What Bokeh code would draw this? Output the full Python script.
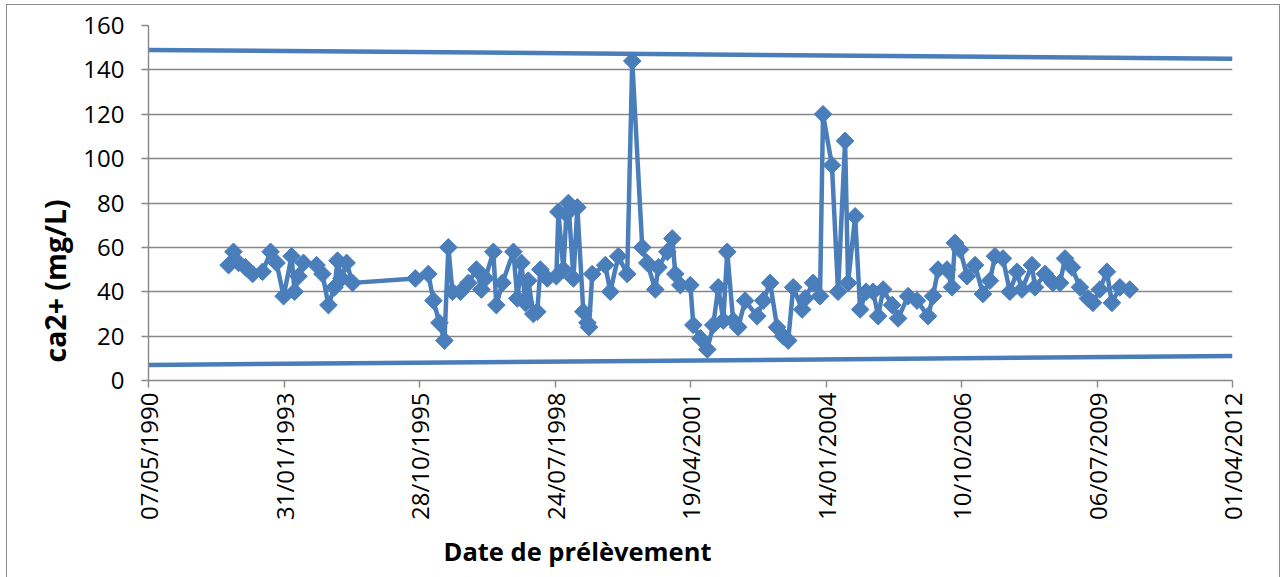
import numpy as np
import pandas as pd
from bokeh.plotting import figure
from bokeh.models import ColumnDataSource, Range1d, FixedTicker, DatetimeTickFormatter, Title
from bokeh.embed import file_html
from bokeh.resources import INLINE

# ---------------- data ----------------
tick_dates = ["1990-05-07", "1993-01-31", "1995-10-28", "1998-07-24", "2001-04-19",
              "2004-01-14", "2006-10-10", "2009-07-06", "2012-04-01"]
y_ticks = [0, 20, 40, 60, 80, 100, 120, 140, 160]

sample_dates = [
    "1991-12-19", "1992-01-24", "1992-03-02", "1992-04-22", "1992-06-13", "1992-08-26",
    "1992-10-24", "1992-12-07", "1993-01-28", "1993-03-28", "1993-04-19", "1993-05-18",
    "1993-06-24", "1993-09-28", "1993-11-11", "1993-12-25", "1994-02-08", "1994-03-02",
    "1994-03-31", "1994-05-08", "1994-06-21",
    "1995-09-27", "1996-01-01", "1996-02-08", "1996-03-23", "1996-04-29", "1996-05-28",
    "1996-06-27", "1996-08-25", "1996-10-23", "1996-12-21", "1997-01-27", "1997-02-25",
    "1997-04-25", "1997-05-17", "1997-07-01", "1997-09-20", "1997-10-19", "1997-11-18",
    "1997-12-17", "1998-01-08", "1998-02-14", "1998-03-15", "1998-04-07", "1998-05-28",
    "1998-08-03", "1998-08-18", "1998-09-24", "1998-10-16", "1998-10-31", "1998-12-07",
    "1999-01-05", "1999-02-18", "1999-03-20", "1999-04-01", "1999-04-25", "1999-07-30",
    "1999-09-05", "1999-11-03", "2000-01-08", "2000-02-14", "2000-04-28", "2000-06-04",
    "2000-08-02", "2000-08-25", "2000-10-30", "2000-12-06", "2000-12-28", "2001-02-03",
    "2001-04-18", "2001-05-10", "2001-07-01", "2001-08-21", "2001-10-04", "2001-11-10",
    "2001-12-17", "2002-01-15", "2002-02-28", "2002-04-06", "2002-05-27", "2002-08-24",
    "2002-10-08", "2002-11-28", "2003-01-18", "2003-03-04", "2003-04-10", "2003-05-17",
    "2003-07-22", "2003-08-13", "2003-10-11", "2003-12-01", "2003-12-23", "2004-02-27",
    "2004-04-12", "2004-06-03", "2004-06-25", "2004-08-16", "2004-09-22", "2004-11-05",
    "2004-12-27", "2005-02-02", "2005-03-11", "2005-05-16", "2005-06-29", "2005-09-11",
    "2005-11-16", "2006-02-05", "2006-03-14", "2006-04-20", "2006-06-25", "2006-08-01",
    "2006-08-23", "2006-09-29", "2006-11-20", "2007-01-18", "2007-03-17", "2007-05-08",
    "2007-06-14", "2007-08-12", "2007-10-02", "2007-11-23", "2007-12-30", "2008-03-13",
    "2008-04-04", "2008-06-17", "2008-08-15", "2008-10-06", "2008-11-12", "2009-01-02",
    "2009-03-02", "2009-04-30", "2009-06-06", "2009-07-27", "2009-09-17", "2009-10-24",
    "2009-12-22", "2010-03-05",
]
ca_values = [
    52, 58, 53, 51, 48, 49,
    58, 53, 38, 56, 40, 47,
    53, 52, 48, 34, 42, 54,
    46, 53, 44,
    46, 48, 36, 26, 18, 60,
    40, 40, 44, 50, 41, 46,
    58, 34, 44, 58, 37, 53,
    35, 45, 30, 31, 50, 46,
    47, 76, 50, 75, 80, 46,
    78, 31, 26, 24, 48, 52,
    40, 56, 48, 144, 60, 53,
    41, 51, 58, 64, 48, 43,
    43, 25, 19, 14, 25, 42,
    27, 58, 27, 24, 36, 29,
    36, 44, 24, 20, 18, 42,
    32, 37, 44, 38, 120, 97,
    40, 108, 44, 74, 32, 40,
    40, 29, 41, 34, 28, 38,
    36, 29, 38, 50, 50, 42,
    62, 59, 47, 52, 39, 45,
    56, 55, 40, 49, 41, 52,
    42, 48, 44, 44, 55, 51,
    42, 37, 35, 41, 49, 35,
    42, 41,
]

limit_dates = ["1990-05-07", "2012-04-01"]
upper_limit = [149, 145]
lower_limit = [7, 11]

x_title = "Date de prélèvement"
y_title = "ca2+ (mg/L)"

# ---------------- style ----------------
BLUE = "#4a7ebb"
GREY = "#878787"
FONT = "Open Sans"


def ms(d):
    return pd.Timestamp(d).value / 1e6


src = ColumnDataSource(dict(x=pd.to_datetime(sample_dates), y=ca_values))

p = figure(width=1272, height=572, x_axis_type="datetime",
           x_range=Range1d(ms(tick_dates[0]), ms(tick_dates[-1])),
           y_range=Range1d(0, 160),
           output_backend="svg", toolbar_location=None,
           min_border_left=141, min_border_right=47,
           min_border_top=20, min_border_bottom=197,
           styles={"margin-left": "7px", "margin-top": "5px",
                   "outline": "1px solid #8c8c8c"})
p.outline_line_color = None
p.background_fill_color = "white"
p.border_fill_color = "white"

p.xgrid.visible = False
p.ygrid.grid_line_color = GREY
p.ygrid.grid_line_width = 1.4

p.yaxis.ticker = FixedTicker(ticks=y_ticks)
p.xaxis.ticker = FixedTicker(ticks=[ms(d) for d in tick_dates])
fmt = "%d/%m/%Y"
p.xaxis.formatter = DatetimeTickFormatter(
    microseconds=fmt, milliseconds=fmt, seconds=fmt, minsec=fmt, minutes=fmt,
    hourmin=fmt, hours=fmt, days=fmt, months=fmt, years=fmt)
p.xaxis.major_label_orientation = np.pi / 2

for ax in (p.xaxis[0], p.yaxis[0]):
    ax.axis_line_color = GREY
    ax.axis_line_width = 1.4
    ax.major_tick_line_color = GREY
    ax.major_tick_line_width = 1.4
    ax.major_tick_in = 0
    ax.major_tick_out = 7
    ax.minor_tick_line_color = None
    ax.major_label_text_font = FONT
    ax.major_label_text_font_size = "24px"
    ax.major_label_text_color = "black"
p.yaxis.major_label_standoff = 17
p.xaxis.major_label_standoff = 5

# limit lines
lim_x = pd.to_datetime(limit_dates)
p.line(lim_x, upper_limit, line_color=BLUE, line_width=4.5)
p.line(lim_x, lower_limit, line_color=BLUE, line_width=4.5)

# data series
p.line("x", "y", source=src, line_color=BLUE, line_width=4.5)
p.scatter("x", "y", source=src, marker="square", angle=np.pi / 4, size=12.5,
          fill_color=BLUE, line_color=BLUE)

# axis titles
p.add_layout(Title(text=x_title, align="left", offset=295, standoff=19,
                   text_font=FONT, text_font_style="bold", text_font_size="25.5px",
                   text_color="black"), "below")
p.add_layout(Title(text=y_title, align="left", offset=18, standoff=14,
                   text_font=FONT, text_font_style="bold", text_font_size="28.5px",
                   text_color="black"), "left")

open("out.html", "w").write(file_html(p, INLINE))
